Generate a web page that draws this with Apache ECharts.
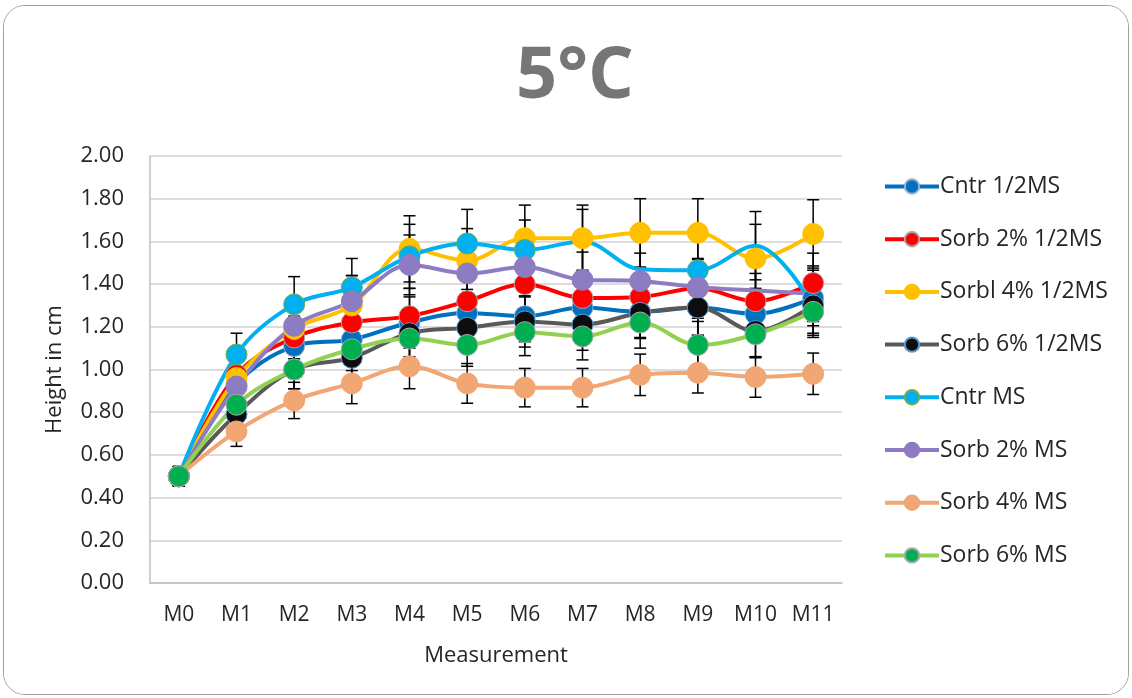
<!DOCTYPE html>
<html>
<head>
<meta charset="utf-8">
<script src="https://cdn.jsdelivr.net/npm/echarts@6/dist/echarts.min.js"></script>
<style>
  html, body { margin: 0; padding: 0; background: #fff; }
  #frame {
    position: absolute; left: 3px; top: 5px; width: 1124px; height: 688px;
    border: 1px solid #a0a0a0; border-radius: 22px; overflow: hidden;
  }
  #chart { position: absolute; left: -4px; top: -6px; width: 1132px; height: 698px; }
</style>
</head>
<body>
<div id="frame"><div id="chart"></div></div>
<script>
// categories
const measurements = ['M0', 'M1', 'M2', 'M3', 'M4', 'M5', 'M6', 'M7', 'M8', 'M9', 'M10', 'M11'];
const yTicks = [0, 0.2, 0.4, 0.6, 0.8, 1.0, 1.2, 1.4, 1.6, 1.8, 2.0];

// mean heights (cm)
const cntrHalf  = [0.50, 0.93, 1.11, 1.14, 1.22, 1.265, 1.25, 1.29, 1.27, 1.29, 1.26, 1.335];
const sorb2Half = [0.50, 0.975, 1.15, 1.22, 1.25, 1.32, 1.40, 1.335, 1.34, 1.38, 1.32, 1.405];
const sorb4Half = [0.50, 0.96, 1.19, 1.30, 1.565, 1.51, 1.615, 1.615, 1.64, 1.64, 1.52, 1.635];
const sorb6Half = [0.50, 0.79, 1.00, 1.055, 1.17, 1.195, 1.225, 1.21, 1.265, 1.29, 1.18, 1.30];
const cntrMs    = [0.50, 1.07, 1.305, 1.385, 1.53, 1.59, 1.56, 1.60, 1.47, 1.465, 1.58, 1.30];
const sorb2Ms   = [0.50, 0.92, 1.205, 1.32, 1.49, 1.45, 1.48, 1.42, 1.415, 1.385, 1.37, 1.355];
const sorb4Ms   = [0.50, 0.71, 0.855, 0.935, 1.015, 0.935, 0.915, 0.915, 0.975, 0.985, 0.965, 0.98];
const sorb6Ms   = [0.50, 0.835, 1.00, 1.095, 1.145, 1.115, 1.175, 1.155, 1.22, 1.115, 1.165, 1.27];

// error bar half-widths (cm)
const errCntrHalf  = [0.045, 0.08, 0.10, 0.10, 0.12, 0.11, 0.12, 0.12, 0.12, 0.13, 0.12, 0.13];
const errSorb2Half = [0.045, 0.09, 0.10, 0.11, 0.13, 0.12, 0.13, 0.13, 0.13, 0.14, 0.13, 0.14];
const errSorb4Half = [0.045, 0.10, 0.12, 0.14, 0.155, 0.15, 0.155, 0.155, 0.16, 0.16, 0.16, 0.16];
const errSorb6Half = [0.045, 0.07, 0.09, 0.10, 0.11, 0.11, 0.12, 0.12, 0.12, 0.13, 0.12, 0.13];
const errCntrMs    = [0.045, 0.10, 0.13, 0.135, 0.15, 0.16, 0.14, 0.15, 0.14, 0.15, 0.16, 0.14];
const errSorb2Ms   = [0.045, 0.09, 0.11, 0.12, 0.14, 0.13, 0.14, 0.13, 0.13, 0.13, 0.13, 0.13];
const errSorb4Ms   = [0.045, 0.07, 0.085, 0.095, 0.105, 0.093, 0.09, 0.09, 0.097, 0.095, 0.095, 0.097];
const errSorb6Ms   = [0.045, 0.08, 0.09, 0.10, 0.11, 0.10, 0.11, 0.11, 0.12, 0.11, 0.11, 0.12];

const FONT = 'Open Sans';

const seriesDefs = [
  { name: 'Cntr 1/2MS',      values: cntrHalf,  errs: errCntrHalf,  line: '#0070C0', fill: '#0070C0', border: '#9ab0c8' },
  { name: 'Sorb 2% 1/2MS',   values: sorb2Half, errs: errSorb2Half, line: '#FF0000', fill: '#FF0000', border: '#a6a6a6' },
  { name: 'Sorbl 4% 1/2MS',  values: sorb4Half, errs: errSorb4Half, line: '#FFC000', fill: '#FFC000', border: '#FFC000' },
  { name: 'Sorb 6% 1/2MS',   values: sorb6Half, errs: errSorb6Half, line: '#595959', fill: '#0D0D0D', border: '#5B9BD5' },
  { name: 'Cntr MS',         values: cntrMs,    errs: errCntrMs,    line: '#00B0F0', fill: '#00B0F0', border: '#70AD47', noMarker: [7, 8, 10, 11] },
  { name: 'Sorb 2% MS',      values: sorb2Ms,   errs: errSorb2Ms,   line: '#8E7CC3', fill: '#8E7CC3', border: '#8E7CC3', noMarker: [10, 11] },
  { name: 'Sorb 4% MS',      values: sorb4Ms,   errs: errSorb4Ms,   line: '#F1A673', fill: '#F1A673', border: '#F1A673' },
  { name: 'Sorb 6% MS',      values: sorb6Ms,   errs: errSorb6Ms,   line: '#92D050', fill: '#00B050', border: '#a6a6a6' }
];

const chart = echarts.init(document.getElementById('chart'));

const lineSeries = seriesDefs.map(d => ({
  name: d.name,
  type: 'line',
  smooth: 0.35,
  z: 3,
  symbol: 'circle',
  symbolSize: 21,
  data: d.values.map((v, i) => (d.noMarker && d.noMarker.includes(i)) ? { value: v, symbol: 'none' } : v),
  lineStyle: { color: d.line, width: 4 },
  itemStyle: { color: d.fill, borderColor: d.border, borderWidth: 1 },
  emphasis: { disabled: true }
}));

const errorSeries = seriesDefs.map(d => ({
  type: 'custom',
  name: d.name + ' err',
  z: 2,
  silent: true,
  data: d.values.map((v, i) => [i, v - d.errs[i], v + d.errs[i]]),
  renderItem: (params, api) => {
    const lo = api.coord([api.value(0), api.value(1)]);
    const hi = api.coord([api.value(0), api.value(2)]);
    const half = 6;
    const style = { stroke: '#000', lineWidth: 1.5 };
    return {
      type: 'group',
      children: [
        { type: 'line', shape: { x1: hi[0], y1: hi[1], x2: lo[0], y2: lo[1] }, style },
        { type: 'line', shape: { x1: hi[0] - half, y1: hi[1], x2: hi[0] + half, y2: hi[1] }, style },
        { type: 'line', shape: { x1: lo[0] - half, y1: lo[1], x2: lo[0] + half, y2: lo[1] }, style }
      ]
    };
  }
}));

chart.setOption({
  backgroundColor: '#fff',
  animation: false,
  title: {
    text: '5°C',
    left: 570,
    textAlign: 'center',
    top: 36,
    textStyle: { fontFamily: FONT, fontSize: 72, fontWeight: 'bold', color: '#767676' }
  },
  legend: {
    data: seriesDefs.map(d => d.name),
    orient: 'vertical',
    left: 878,
    top: 170,
    itemWidth: 54,
    itemHeight: 18,
    itemGap: 29.7,
    lineStyle: { width: 4 },
    textStyle: { fontFamily: FONT, fontSize: 23, color: '#262626', padding: [0, 0, 0, -4] },
    selectedMode: false
  },
  grid: { left: 150, right: 290, top: 156, bottom: 115 },
  xAxis: {
    type: 'category',
    data: measurements,
    boundaryGap: true,
    name: 'Measurement',
    nameLocation: 'middle',
    nameGap: 62,
    nameTextStyle: { fontFamily: FONT, fontSize: 22, color: '#262626' },
    axisLine: { lineStyle: { color: '#bfbfbf', width: 1.5 } },
    axisTick: { show: false },
    axisLabel: { interval: 0, fontFamily: FONT, fontSize: 21, color: '#262626', margin: 22 }
  },
  yAxis: {
    type: 'value',
    min: yTicks[0],
    max: yTicks[yTicks.length - 1],
    interval: 0.2,
    name: 'Height in cm',
    nameLocation: 'middle',
    nameRotate: 90,
    nameGap: 84,
    nameTextStyle: { fontFamily: FONT, fontSize: 22, color: '#262626' },
    axisLine: { show: true, lineStyle: { color: '#bfbfbf', width: 1.5 } },
    axisTick: { show: false },
    splitLine: { lineStyle: { color: '#d0d0d0', width: 1.5 } },
    axisLabel: { fontFamily: FONT, fontSize: 22, color: '#262626', margin: 26, formatter: v => v.toFixed(2) }
  },
  series: [...errorSeries, ...lineSeries]
});
</script>
</body>
</html>
